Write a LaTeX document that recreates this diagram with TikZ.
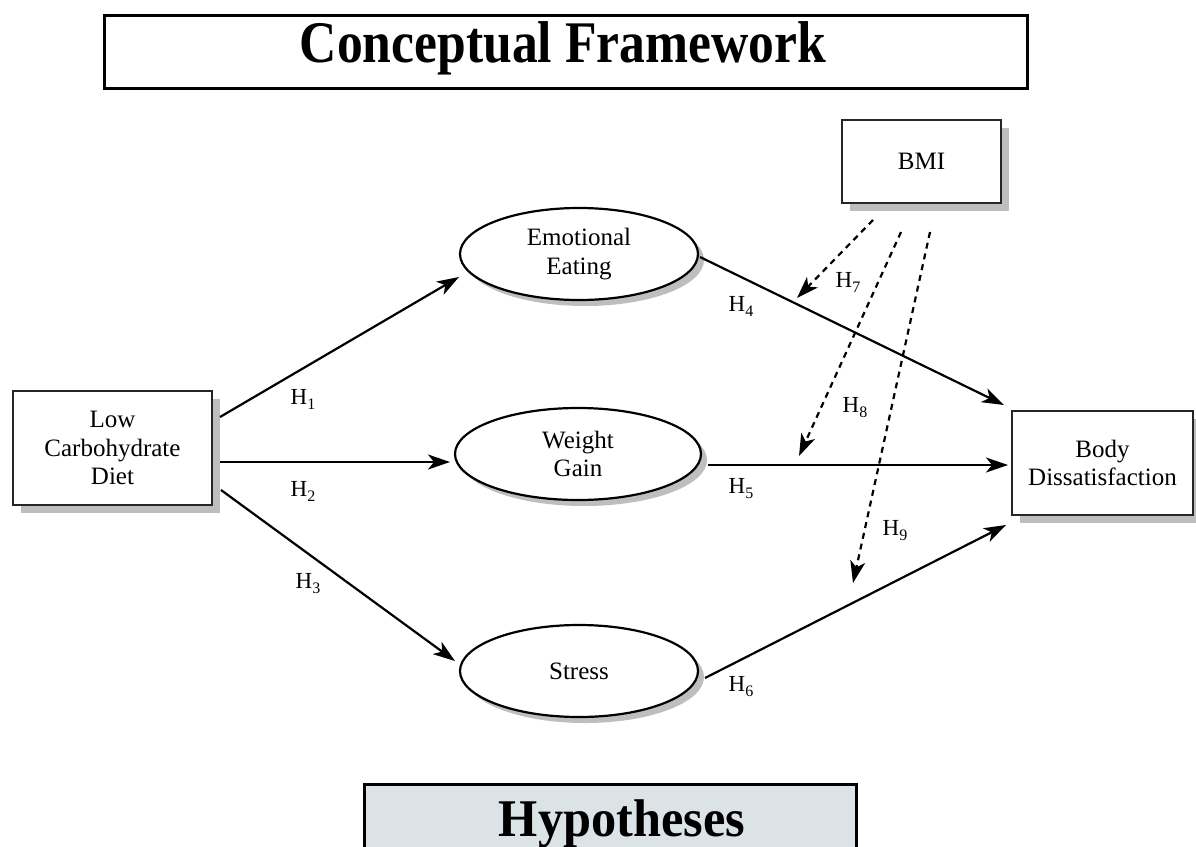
\documentclass[tikz,border=0pt]{standalone}
\usepackage{fontspec}
\setmainfont{Liberation Serif}
\usetikzlibrary{arrows.meta,calc,shapes.geometric,shadows}
\definecolor{shadowgray}{HTML}{BEBEBE}
\definecolor{hypfill}{HTML}{DCE3E6}
\newcommand\Hlab[1]{H\raisebox{-5pt}{\fontsize{16}{16}\selectfont #1}}
\begin{document}
\begin{tikzpicture}[x=1pt,y=-1pt,
  txt/.style={font=\fontsize{25}{28.5}\selectfont, align=center},
  shbox/.style={draw=black!85, line width=2.2pt, fill=white, rectangle, inner sep=0pt, txt,
     drop shadow={shadow xshift=8pt, shadow yshift=-8pt, fill=shadowgray, opacity=1}},
  shell/.style={draw=black, line width=2.2pt, fill=white, ellipse, inner sep=0pt, txt,
     minimum width=238pt, minimum height=92pt,
     drop shadow={shadow xshift=6pt, shadow yshift=-6pt, fill=shadowgray, opacity=1}},
  arr/.style={line width=2.2pt, -{Stealth[length=22pt,width=15pt,inset=6pt]}},
  darr/.style={arr, dash pattern=on 6pt off 5pt},
  hl/.style={font=\fontsize{23}{23}\selectfont, inner sep=0pt},
  ttl/.style={font=\bfseries, inner sep=0pt}
]
\clip (0,0) rectangle (1196,846);
\fill[white] (0,0) rectangle (1196,846);

% title
\node[draw=black, line width=3pt, minimum width=923pt, minimum height=73pt, inner sep=0pt] (titlebox) at (565.5,51.5) {};
\node[ttl, anchor=base] (title) at (563,62) {\scalebox{0.875}[1]{\fontsize{59}{59}\selectfont Conceptual Framework}};

% hypotheses
\node[draw=black, line width=3pt, fill=hypfill, minimum width=492pt, minimum height=100pt, inner sep=0pt, anchor=north west] (hypbox) at (363,783) {};
\node[ttl, anchor=base] (hyp) at (622,836) {\scalebox{0.95}[1]{\fontsize{53}{53}\selectfont Hypotheses}};

% nodes
\node[shbox, minimum width=199pt, minimum height=114pt] (lcd) at (112.5,448) {Low\\Carbohydrate\\Diet};
\node[shbox, minimum width=181pt, minimum height=104pt] (bd) at (1102.5,463) {Body\\Dissatisfaction};
\node[shbox, minimum width=159pt, minimum height=83pt] (bmi) at (921.5,161.5) {BMI};
\node[shell] (ee) at (579,254) {Emotional\\Eating};
\node[shell, minimum width=246pt] (wg) at (578,454) {Weight\\Gain};
\node[shell] (st) at (579,671) {Stress};

% solid arrows
\draw[arr] ($(lcd.center)+(107.5,-31)$) -- ($(ee.center)+(-120,23)$);
\draw[arr] ($(lcd.center)+(107.5,14)$) -- ($(wg.center)+(-128,8)$);
\draw[arr] ($(lcd.center)+(108.5,42)$) -- ($(st.center)+(-124,-10)$);
\draw[arr] ($(ee.center)+(121,3)$) -- ($(bd.center)+(-98.5,-58)$);
\draw[arr] ($(wg.center)+(130,11)$) -- ($(bd.center)+(-94.5,2)$);
\draw[arr] ($(st.center)+(126,7)$) -- ($(bd.center)+(-96.5,62)$);

% moderation arrows
\coordinate (h7e) at (797,298);
\coordinate (h8e) at (799,456);
\coordinate (h9e) at (853,583);
\draw[darr] ($(bmi.center)+(-48.5,58.5)$) -- (h7e);
\draw[darr] ($(bmi.center)+(-20.5,70.5)$) -- (h8e);
\draw[darr] ($(bmi.center)+(8.5,70.5)$) -- (h9e);

% labels
\node[hl] (l1) at (303,399) {\Hlab{1}};
\node[hl] (l2) at (303,491) {\Hlab{2}};
\node[hl] (l3) at (308,584) {\Hlab{3}};
\node[hl] (l4) at (741,306) {\Hlab{4}};
\node[hl] (l5) at (741,489) {\Hlab{5}};
\node[hl] (l6) at (741,687) {\Hlab{6}};
\node[hl] (l7) at (848,282) {\Hlab{7}};
\node[hl] (l8) at (855,408) {\Hlab{8}};
\node[hl] (l9) at (895,531) {\Hlab{9}};
\end{tikzpicture}
\end{document}
